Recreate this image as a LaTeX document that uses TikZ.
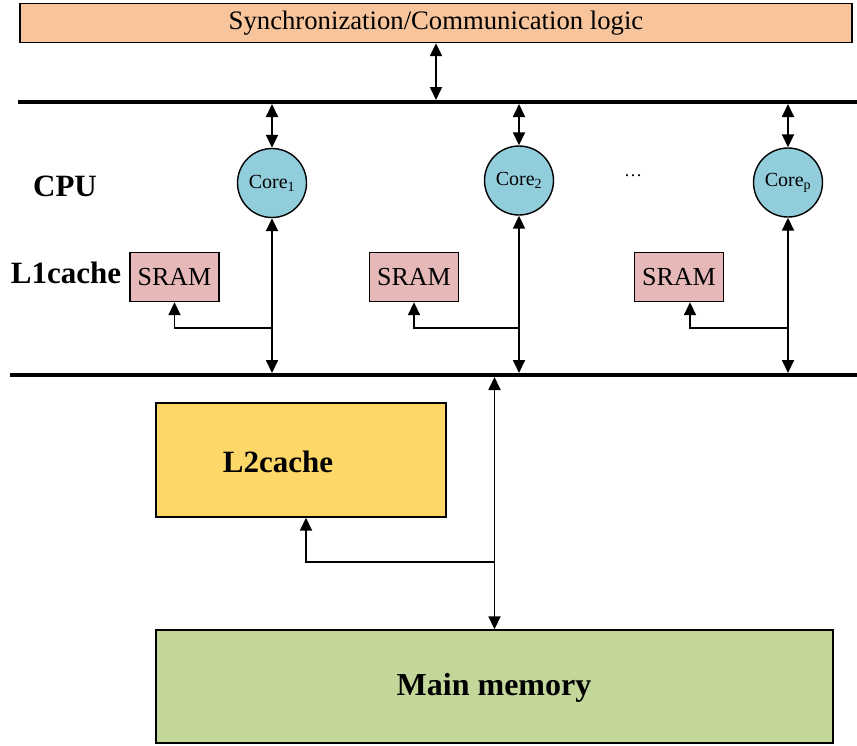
\documentclass[tikz,border=0pt]{standalone}
\usepackage{fontspec}
\setmainfont{Liberation Serif}
\usetikzlibrary{arrows.meta}
\definecolor{peach}{HTML}{F8C49B}
\definecolor{corec}{HTML}{92CDDC}
\definecolor{sramc}{HTML}{E6B9B8}
\definecolor{ltwo}{HTML}{FDD868}
\definecolor{memc}{HTML}{C4D79B}
\tikzset{
  box/.style={draw=black, line width=1.4pt, inner sep=0pt},
  corenode/.style={circle, draw=black, line width=1.4pt, fill=corec, minimum size=69pt, inner sep=0pt, font=\fontsize{20}{22}\selectfont},
  sramnode/.style={box, fill=sramc, minimum width=89pt, minimum height=49pt, font=\fontsize{26}{28}\selectfont},
  biglabel/.style={font=\fontsize{31}{34}\selectfont\bfseries, inner sep=0pt},
  bus/.style={line width=4pt},
  dar/.style={line width=1.8pt, {Triangle[length=13pt,width=12pt]}-{Triangle[length=13pt,width=12pt]}},
  sar/.style={line width=1.8pt, -{Triangle[length=13pt,width=12pt]}},
}
\begin{document}
\begin{tikzpicture}[x=1pt,y=-1pt]
\useasboundingbox (0,0) rectangle (857,745);
% top box
\node[box, fill=peach, minimum width=832pt, minimum height=39pt, font=\fontsize{26.7}{30}\selectfont] (sync) at (436,23) {Synchronization/Communication logic};
% buses
\coordinate (busTl) at (18,102);
\coordinate (busTr) at (857,102);
\coordinate (busTtop) at (0,100);
\coordinate (busTbot) at (0,104);
\draw[bus] (busTl) -- (busTr);
\coordinate (busBl) at (10,375);
\coordinate (busBr) at (857,375);
\coordinate (busBtop) at (0,373);
\coordinate (busBbot) at (0,377);
\draw[bus] (busBl) -- (busBr);
% sync arrow
\draw[dar] (sync.south) -- (sync.south |- busTtop);
% labels
\node[biglabel] (cpu) at (65,186) {CPU};
\node[biglabel] (l1) at (66,273) {L1cache};
\node[font=\fontsize{18}{20}\selectfont] (dots) at (633,176) {\ldots};
% cores
\node[corenode] (c1) at (272,183) {Core\textsubscript{1}};
\node[corenode] (c2) at (519,180.5) {Core\textsubscript{2}};
\node[corenode] (cp) at (788,182.5) {Core\textsubscript{p}};
% SRAMs
\node[sramnode] (s1) at (174.5,277) {SRAM};
\node[sramnode] (s2) at (414,277) {SRAM};
\node[sramnode] (s3) at (679,277) {SRAM};
% core arrows
\foreach \c in {c1,c2,cp}{
  \draw[dar] (\c.north |- busTbot) -- (\c.north);
  \draw[dar] (\c.south) -- (\c.south |- busBtop);
}
% branches to SRAM
\coordinate (j1) at (272,328);
\coordinate (j2) at (519,328);
\coordinate (jp) at (788,328);
\draw[sar] (j1) -| (s1.south);
\draw[sar] (j2) -| (s2.south);
\draw[sar] (jp) -| ([xshift=11pt]s3.south);
% L2 cache
\node[box, fill=ltwo, minimum width=290pt, minimum height=114pt] (l2) at (301,460) {};
\node[biglabel] (l2t) at (278,462) {L2cache};
% main memory
\node[box, fill=memc, minimum width=677pt, minimum height=113pt] (mem) at (494.5,686.5) {};
\node[biglabel, font=\fontsize{32}{34}\selectfont\bfseries] (memt) at (494,688) {Main memory};
% memory arrow
\draw[dar] (mem.north |- busBbot) -- (mem.north);
\coordinate (jm) at (494,562);
\draw[sar] (jm) -| ([xshift=5pt]l2.south);
\end{tikzpicture}
\end{document}
